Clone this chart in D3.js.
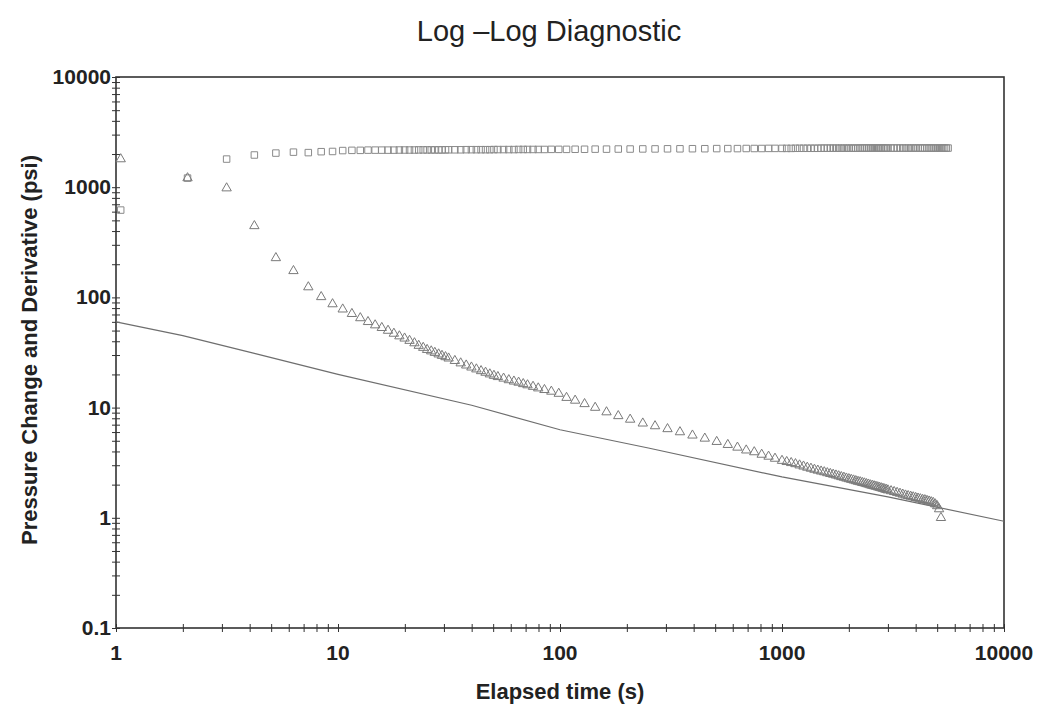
<!DOCTYPE html>
<html>
  <head>
    <meta charset="UTF-8">
    <script src="https://d3js.org/d3.v7.min.js"></script>
    <style>
      body { margin: 0; background: #fff; }
      text { font-family: "Liberation Sans", Arial, sans-serif; fill: #222; }
      .ticklbl { font-size: 21px; font-weight: bold; }
      .axtitle { font-size: 22px; font-weight: bold; }
      .title { font-size: 29px; }
      .axis .domain { stroke: none; }
      .axis line { stroke: #333; }
    </style>
    <title>Log -Log Diagnostic</title>
  </head>
  <body>
    <svg id="chart" width="1039" height="705"></svg>
    <script>
      // elapsed time (s) - shared by both series
      const elapsed = [
        1.05, 2.1, 3.15, 4.2, 5.25, 6.3, 7.35, 8.4, 9.45, 10.5,
        11.55, 12.6, 13.65, 14.7, 15.75, 16.8, 17.85, 18.9, 19.95, 21.0,
        22.1, 23.1, 24.2, 25.2, 26.3, 27.3, 28.4, 29.4, 30.5, 31.5,
        33.6, 35.7, 37.8, 39.9, 42.0, 44.1, 46.2, 48.3, 50.4, 52.5,
        55.7, 58.8, 62.0, 65.1, 68.3, 71.4, 75.6, 79.8, 85.1, 91.4,
        98.7, 107, 117, 129, 144, 162, 183, 207, 236, 268,
        305, 347, 395, 449, 508, 570, 630, 690, 750, 810,
        870, 930, 1000, 1050, 1100, 1150, 1200, 1250, 1300, 1350,
        1400, 1450, 1500, 1550, 1600, 1650, 1700, 1750, 1800, 1850,
        1900, 1950, 2000, 2050, 2100, 2150, 2200, 2250, 2300, 2350,
        2400, 2450, 2500, 2550, 2600, 2650, 2700, 2750, 2800, 2850,
        2900, 2950, 3000, 3100, 3200, 3300, 3400, 3500, 3600, 3700,
        3800, 3900, 4000, 4100, 4200, 4300, 4400, 4500, 4600, 4700,
        4800, 4900, 5000, 5100, 5200, 5300, 5400, 5500, 5600
      ];

      // pressure change (psi) - squares
      const pressureChange = [
        620, 1210, 1800, 1960, 2040, 2080, 2060, 2100, 2110, 2150,
        2160, 2160, 2170, 2170, 2170, 2170, 2170, 2175, 2175, 2175,
        2175, 2180, 2180, 2180, 2180, 2180, 2180, 2180, 2185, 2185,
        2185, 2185, 2190, 2190, 2190, 2190, 2190, 2190, 2195, 2195,
        2195, 2195, 2195, 2200, 2200, 2200, 2200, 2200, 2200, 2205,
        2205, 2205, 2210, 2210, 2215, 2215, 2220, 2220, 2225, 2225,
        2230, 2230, 2235, 2235, 2240, 2240, 2240, 2245, 2245, 2245,
        2250, 2250, 2250, 2250, 2250, 2255, 2255, 2255, 2255, 2255,
        2255, 2255, 2260, 2260, 2260, 2260, 2260, 2260, 2260, 2260,
        2260, 2260, 2260, 2260, 2260, 2260, 2260, 2265, 2265, 2265,
        2265, 2265, 2265, 2265, 2265, 2265, 2265, 2265, 2265, 2265,
        2265, 2265, 2265, 2265, 2265, 2265, 2265, 2265, 2265, 2265,
        2265, 2265, 2265, 2265, 2265, 2265, 2265, 2265, 2265, 2265,
        2265, 2265, 2265, 2265, 2265, 2265, 2265, 2265, 2265
      ];

      // derivative (psi) - triangles, stops before the last few times
      const derivative = [
        1800, 1210, 980, 445, 228, 174, 124, 101, 87, 78,
        71, 65, 60, 56, 53, 50, 47, 44.5, 42.5, 40.5,
        38.5, 36.5, 35, 33.5, 32.5, 31.5, 30.5, 29.6, 28.8, 28,
        26.6, 25.3, 24.2, 23.2, 22.3, 21.5, 20.8, 20.1, 19.5, 19.0,
        18.4, 17.8, 17.3, 16.9, 16.4, 16.0, 15.5, 15.0, 14.5, 14.0,
        13.4, 12.3, 11.6, 10.8, 10.0, 9.1, 8.4, 7.8, 7.2, 6.8,
        6.4, 6.0, 5.6, 5.25, 4.9, 4.6, 4.35, 4.1, 3.95, 3.75,
        3.6, 3.45, 3.3, 3.22, 3.15, 3.08, 3.0, 2.93, 2.86, 2.8,
        2.74, 2.69, 2.64, 2.6, 2.55, 2.51, 2.47, 2.43, 2.39, 2.35,
        2.32, 2.28, 2.25, 2.22, 2.19, 2.16, 2.13, 2.11, 2.08, 2.06,
        2.03, 2.01, 1.98, 1.96, 1.94, 1.92, 1.9, 1.88, 1.86, 1.84,
        1.82, 1.8, 1.78, 1.75, 1.72, 1.69, 1.66, 1.63, 1.6, 1.58,
        1.56, 1.54, 1.52, 1.5, 1.48, 1.46, 1.45, 1.43, 1.41, 1.39,
        1.37, 1.33, 1.28, 1.2, 1.0
      ];

      // straight reference line (drawn through these points)
      const slopeT = [1, 2, 4.2, 10, 40, 100, 250, 1000, 3000, 10000];
      const slopeV = [60, 45, 31, 20, 10.5, 6.3, 4.3, 2.35, 1.55, 0.93];

      const xTicks = [1, 10, 100, 1000, 10000];
      const yTicks = [0.1, 1, 10, 100, 1000, 10000];

      const svg = d3.select("svg#chart");
      const margin = { "top": 77, "right": 35, "bottom": 77, "left": 116 };
      const width = +svg.attr("width");
      const height = +svg.attr("height");
      const chartWidth = width - margin.left - margin.right;
      const chartHeight = height - margin.top - margin.bottom;

      const xScale = d3.scaleLog().domain([1, 10000]).range([margin.left, margin.left + chartWidth]);
      const yScale = d3.scaleLog().domain([0.1, 10000]).range([margin.top + chartHeight, margin.top]);

      // every 1..9 position in each decade for the little tick marks
      const xMinor = xScale.ticks();
      const yMinor = yScale.ticks();

      // ticks cross the axis line, so draw them both ways
      svg.append("g").attr("class", "axis")
         .attr("transform", "translate(0," + (margin.top + chartHeight) + ")")
         .call(d3.axisBottom(xScale).tickValues(xMinor).tickSize(4).tickFormat(""));
      svg.append("g").attr("class", "axis")
         .attr("transform", "translate(0," + (margin.top + chartHeight) + ")")
         .call(d3.axisTop(xScale).tickValues(xMinor).tickSize(4).tickFormat(""));
      svg.append("g").attr("class", "axis")
         .attr("transform", "translate(" + margin.left + ",0)")
         .call(d3.axisLeft(yScale).tickValues(yMinor).tickSize(4).tickFormat(""));
      svg.append("g").attr("class", "axis")
         .attr("transform", "translate(" + margin.left + ",0)")
         .call(d3.axisRight(yScale).tickValues(yMinor).tickSize(4).tickFormat(""));

      // frame
      svg.append("rect")
         .attr("x", margin.left).attr("y", margin.top)
         .attr("width", chartWidth).attr("height", chartHeight)
         .attr("fill", "none").attr("stroke", "#333").attr("stroke-width", 1.6);

      svg.selectAll("text.xlbl").data(xTicks).enter()
         .append("text").attr("class", "ticklbl xlbl")
         .attr("x", d => xScale(d))
         .attr("y", margin.top + chartHeight + 32)
         .attr("text-anchor", "middle")
         .text(d => d3.format("")(d));

      svg.selectAll("text.ylbl").data(yTicks).enter()
         .append("text").attr("class", "ticklbl ylbl")
         .attr("x", margin.left - 5)
         .attr("y", d => yScale(d) + 7)
         .attr("text-anchor", "end")
         .text(d => d3.format("")(d));

      // reference line
      const lineData = slopeT.map((t, i) => [t, slopeV[i]]);
      svg.append("path")
         .datum(lineData)
         .attr("fill", "none")
         .attr("stroke", "#6e6e6e")
         .attr("stroke-width", 1.2)
         .attr("d", d3.line().x(d => xScale(d[0])).y(d => yScale(d[1])));

      // squares
      const sq = d3.symbol().type(d3.symbolSquare).size(42);
      svg.selectAll("path.sq").data(pressureChange).enter()
         .append("path").attr("class", "sq")
         .attr("d", sq)
         .attr("transform", (d, i) => "translate(" + xScale(elapsed[i]) + "," + yScale(d) + ")")
         .attr("fill", "none").attr("stroke", "#8a8a8a").attr("stroke-width", 1);

      // triangles
      const tri = d3.symbol().type(d3.symbolTriangle).size(38);
      svg.selectAll("path.tri").data(derivative).enter()
         .append("path").attr("class", "tri")
         .attr("d", tri)
         .attr("transform", (d, i) => "translate(" + xScale(elapsed[i]) + "," + yScale(d) + ")")
         .attr("fill", "none").attr("stroke", "#7a7a7a").attr("stroke-width", 1);

      // titles
      svg.append("text").attr("class", "title")
         .attr("x", 549).attr("y", 41)
         .attr("text-anchor", "middle")
         .text("Log \u2013Log Diagnostic");

      svg.append("text").attr("class", "axtitle")
         .attr("x", 560)
         .attr("y", 699)
         .attr("text-anchor", "middle")
         .text("Elapsed time (s)");

      svg.append("text").attr("class", "axtitle")
         .attr("transform", "translate(37," + 350 + ") rotate(-90)")
         .attr("text-anchor", "middle")
         .text("Pressure Change and Derivative (psi)");
    </script>
  </body>
</html>
